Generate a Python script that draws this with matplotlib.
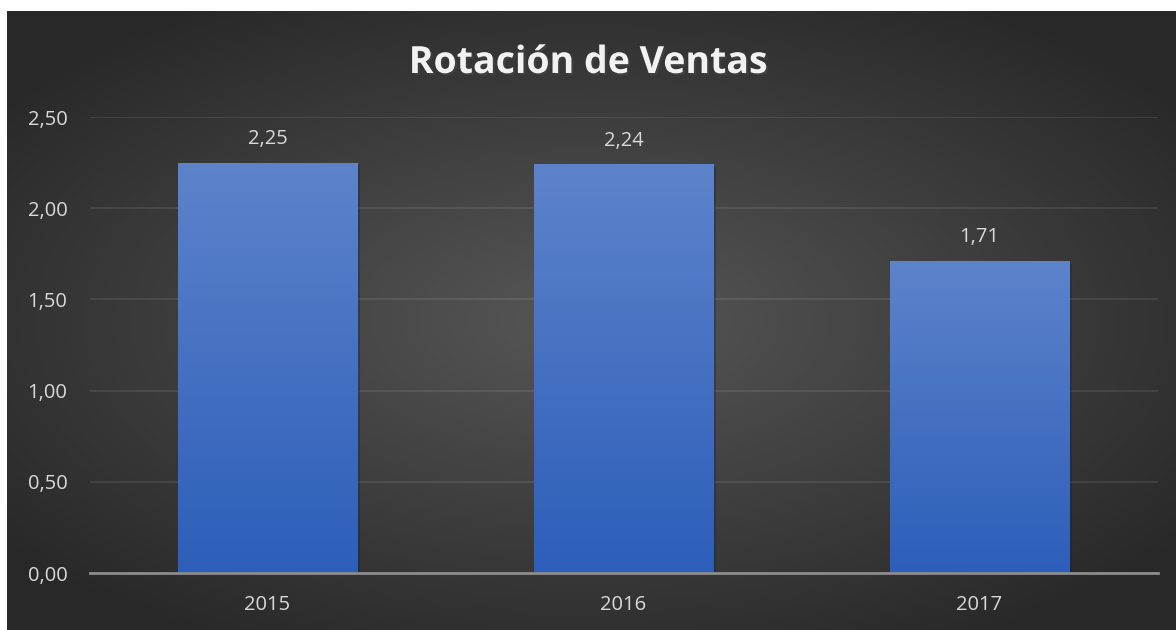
import matplotlib.pyplot as plt
import matplotlib.patheffects as pe
import numpy as np

# data
years = ["2015", "2016", "2017"]
rotacion = [2.25, 2.24, 1.71]
yticks = [0.0, 0.5, 1.0, 1.5, 2.0, 2.5]

plt.rcParams['font.family'] = ['Open Sans', 'DejaVu Sans']

fig = plt.figure(figsize=(11.76, 6.30), dpi=100, facecolor='white')

# dark radial background (chart area sits a bit inside the white border)
bg = fig.add_axes([7 / 1176, 0, 1169 / 1176, 619 / 630])
gx, gy = np.meshgrid(np.linspace(-1, 1, 400), np.linspace(-1, 1, 220))
r = np.sqrt((gx / 1.05) ** 2 + (gy / 1.0) ** 2)
shade = 0.34 - 0.18 * np.clip(r, 0, 1.2) / 1.2
bg.imshow(np.dstack([shade, shade, shade]), aspect='auto', extent=[0, 1, 0, 1])
bg.set_axis_off()

ax = fig.add_axes([89.5 / 1176, 57 / 630, 1068 / 1176, 456 / 630])
ax.patch.set_alpha(0)

x = np.arange(len(years))
bars = ax.bar(x, rotacion, width=0.503, color='#4a74c4', zorder=2)

# vertical blue gradient inside each bar
grad = np.linspace(0, 1, 256).reshape(-1, 1)
top = np.array([0x5d, 0x83, 0xcb]) / 255
bot = np.array([0x2d, 0x5e, 0xb9]) / 255
img = bot + (top - bot) * grad[..., None]
for b in bars:
    x0, w, h = b.get_x(), b.get_width(), b.get_height()
    im = ax.imshow(img[:, 0, :].reshape(256, 1, 3), origin='lower', aspect='auto',
                   extent=[x0, x0 + w, 0, h], zorder=3)
    im.set_clip_path(b)
    b.set_path_effects([pe.SimplePatchShadow(offset=(2, -2), alpha=0.35), pe.Normal()])

for xi, v in zip(x, rotacion):
    ax.annotate(f"{v:.2f}".replace('.', ','), (xi, v), xytext=(0, 10),
                textcoords='offset points', ha='center', va='bottom',
                fontsize=14.5, color='#d9d9d9')

ax.set_xlim(-0.5, 2.5)
ax.set_ylim(0, 2.5)
ax.set_xticks(x)
ax.set_xticklabels(years)
ax.set_yticks(yticks)
ax.set_yticklabels([f"{t:.2f}".replace('.', ',') for t in yticks])
ax.tick_params(length=0, labelsize=14.5, colors='#d9d9d9')
ax.tick_params(axis='y', pad=16)
ax.tick_params(axis='x', pad=16)

ax.grid(axis='y', color='#ffffff', alpha=0.1, linewidth=1.2, zorder=0)
ax.set_axisbelow(True)
for s in ['top', 'right', 'left']:
    ax.spines[s].set_visible(False)
ax.spines['bottom'].set_color('#8c8c8c')
ax.spines['bottom'].set_linewidth(2)
ax.spines['bottom'].set_zorder(4)

fig.text(0.5, 1 - 63 / 630, "Rotación de Ventas", ha='center', va='center',
         fontsize=27, fontweight='bold', color='#f2f2f2',
         path_effects=[pe.withSimplePatchShadow(offset=(1.5, -1.5), alpha=0.5)])

plt.savefig("out.png", dpi=100, facecolor='white')
